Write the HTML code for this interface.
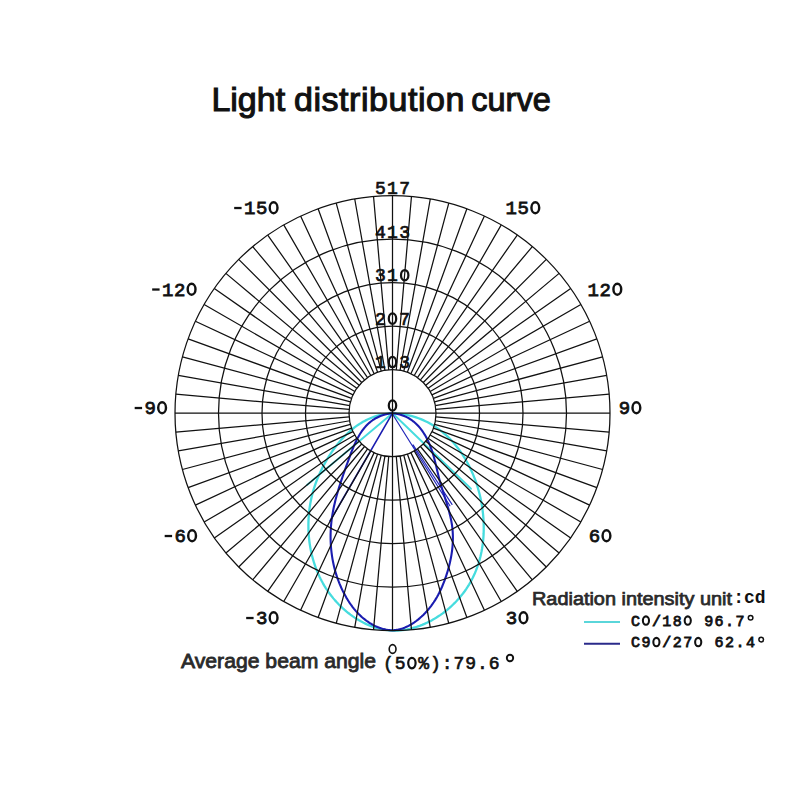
<!DOCTYPE html>
<html><head><meta charset="utf-8"><style>
html,body{margin:0;padding:0;background:#fff;}
svg{display:block;}
</style></head><body>
<svg width="800" height="800" viewBox="0 0 800 800">
<rect width="800" height="800" fill="#fff"/>
<g font-family='"Liberation Sans", sans-serif' font-size="34" fill="#111" stroke="#111" stroke-width="1.1">
<text x="211.4" y="110.5" textLength="73.7" lengthAdjust="spacingAndGlyphs">Light</text>
<text x="294" y="110.5" textLength="170.4" lengthAdjust="spacing">distribution</text>
<text x="471.3" y="110.5" textLength="79.4" lengthAdjust="spacingAndGlyphs">curve</text>
</g>

<g fill="none" stroke-linecap="round" stroke-linejoin="round">
<path d="M392.5 413.2L307 485M392.5 413.2L471 488.75" stroke="#46dcde" stroke-width="1.9"/>
<path d="M392.50 413.19L389.81 413.38L387.16 413.67L384.56 414.06L381.99 414.56L379.47 415.15L376.99 415.85L374.55 416.63L372.16 417.51L369.80 418.47L367.50 419.52L365.23 420.65L363.01 421.85L360.83 423.14L358.70 424.49L356.61 425.92L354.56 427.41L352.56 428.97L350.61 430.59L348.70 432.27L346.83 434.00L345.01 435.79L343.23 437.62L341.50 439.51L339.82 441.43L338.17 443.40L336.57 445.41L335.01 447.46L333.49 449.54L332.01 451.65L330.57 453.80L329.16 455.97L327.80 458.16L326.48 460.38L325.19 462.62L323.94 464.88L322.74 467.16L321.58 469.46L320.46 471.78L319.38 474.12L318.36 476.48L317.37 478.85L316.44 481.24L315.55 483.65L314.72 486.07L313.93 488.50L313.20 490.95L312.52 493.41L311.89 495.89L311.32 498.38L310.79 500.87L310.32 503.38L309.91 505.90L309.54 508.43L309.22 510.96L308.96 513.50L308.75 516.05L308.58 518.61L308.47 521.17L308.41 523.74L308.40 526.31L308.44 528.89L308.53 531.46L308.68 534.03L308.88 536.61L309.12 539.17L309.43 541.74L309.78 544.29L310.19 546.84L310.65 549.39L311.17 551.92L311.74 554.44L312.37 556.95L313.05 559.44L313.78 561.92L314.58 564.38L315.43 566.82L316.33 569.25L317.29 571.65L318.31 574.03L319.39 576.39L320.52 578.72L321.71 581.03L322.96 583.31L324.27 585.56L325.64 587.78L327.06 589.96L328.55 592.12L330.09 594.24L331.69 596.32L333.35 598.37L335.05 600.37L336.81 602.33L338.62 604.24L340.48 606.10L342.38 607.92L344.33 609.68L346.32 611.38L348.35 613.03L350.42 614.62L352.53 616.15L354.67 617.61L356.85 619.01L359.06 620.34L361.30 621.60L363.57 622.78L365.87 623.89L368.19 624.93L370.53 625.88L372.90 626.75L375.29 627.54L377.70 628.24L380.12 628.86L382.56 629.38L385.02 629.81L387.48 630.15L389.95 630.39L392.44 630.53L394.93 630.57L397.42 630.51L399.92 630.35L402.41 630.09L404.91 629.75L407.40 629.31L409.88 628.79L412.35 628.17L414.82 627.48L417.27 626.70L419.70 625.84L422.12 624.90L424.51 623.89L426.89 622.80L429.24 621.64L431.56 620.41L433.86 619.12L436.12 617.76L438.35 616.33L440.55 614.85L442.70 613.31L444.82 611.71L446.90 610.05L448.93 608.34L450.91 606.59L452.85 604.78L454.74 602.93L456.57 601.03L458.35 599.09L460.07 597.12L461.73 595.10L463.33 593.05L464.86 590.97L466.33 588.85L467.74 586.70L469.08 584.53L470.36 582.32L471.58 580.09L472.74 577.83L473.83 575.54L474.87 573.23L475.84 570.89L476.75 568.54L477.61 566.16L478.41 563.76L479.15 561.33L479.83 558.89L480.46 556.44L481.02 553.96L481.54 551.47L482.00 548.97L482.40 546.45L482.75 543.91L483.05 541.37L483.29 538.81L483.48 536.25L483.62 533.67L483.70 531.09L483.74 528.50L483.73 525.91L483.66 523.31L483.55 520.70L483.39 518.10L483.18 515.49L482.92 512.89L482.61 510.28L482.25 507.68L481.84 505.09L481.39 502.50L480.88 499.92L480.33 497.35L479.73 494.79L479.08 492.25L478.39 489.71L477.65 487.20L476.86 484.70L476.02 482.21L475.14 479.75L474.21 477.31L473.24 474.89L472.21 472.50L471.15 470.13L470.03 467.79L468.87 465.48L467.67 463.19L466.41 460.94L465.12 458.72L463.78 456.54L462.39 454.39L460.96 452.28L459.48 450.21L457.96 448.18L456.40 446.19L454.79 444.24L453.13 442.34L451.44 440.48L449.70 438.67L447.91 436.91L446.08 435.20L444.21 433.55L442.30 431.94L440.34 430.39L438.34 428.90L436.30 427.47L434.22 426.09L432.09 424.77L429.92 423.52L427.72 422.33L425.46 421.21L423.17 420.15L420.84 419.16L418.46 418.24L416.04 417.39L413.59 416.61L411.09 415.91L408.55 415.28L405.97 414.73L403.35 414.25L400.70 413.86L398.00 413.55L395.26 413.32L392.48 413.17" stroke="#46dcde" stroke-width="2.3"/>
<path d="M392.5 413.2L330 521" stroke="#1a1cb0" stroke-width="1.6"/>
<path d="M392.1 413.5L449.9 505.8M413.2 445L452 504.4" stroke="#2226b8" stroke-width="1.2"/>
<path d="M392.53 413.19L389.87 413.53L387.34 413.99L384.92 414.56L382.61 415.25L380.41 416.04L378.32 416.94L376.32 417.94L374.42 419.03L372.61 420.22L370.89 421.49L369.25 422.84L367.70 424.28L366.21 425.78L364.81 427.36L363.47 429.01L362.19 430.72L360.97 432.49L359.82 434.31L358.71 436.18L357.65 438.10L356.64 440.06L355.67 442.06L354.73 444.09L353.83 446.16L352.96 448.25L352.11 450.36L351.28 452.49L350.47 454.63L349.67 456.78L348.89 458.94L348.11 461.10L347.33 463.25L346.55 465.41L345.78 467.56L345.01 469.71L344.25 471.86L343.50 474.01L342.76 476.16L342.03 478.30L341.31 480.45L340.60 482.60L339.91 484.75L339.23 486.90L338.56 489.05L337.92 491.20L337.29 493.35L336.69 495.51L336.10 497.67L335.54 499.83L335.00 501.99L334.49 504.16L334.00 506.33L333.54 508.51L333.11 510.69L332.71 512.87L332.34 515.06L332.01 517.26L331.70 519.46L331.43 521.66L331.20 523.88L331.01 526.10L330.85 528.32L330.73 530.55L330.64 532.78L330.59 535.02L330.58 537.26L330.61 539.50L330.68 541.74L330.78 543.98L330.93 546.22L331.11 548.46L331.33 550.69L331.59 552.92L331.89 555.15L332.23 557.37L332.60 559.59L333.02 561.80L333.48 564.00L333.97 566.19L334.51 568.38L335.09 570.56L335.70 572.72L336.36 574.88L337.06 577.02L337.80 579.15L338.58 581.26L339.40 583.36L340.27 585.45L341.17 587.52L342.12 589.57L343.11 591.60L344.14 593.62L345.22 595.61L346.33 597.59L347.50 599.54L348.71 601.47L349.96 603.37L351.27 605.23L352.64 607.07L354.05 608.86L355.53 610.62L357.07 612.33L358.66 614.00L360.32 615.61L362.04 617.18L363.81 618.68L365.64 620.12L367.51 621.48L369.42 622.77L371.37 623.97L373.36 625.09L375.38 626.11L377.42 627.03L379.49 627.85L381.57 628.55L383.67 629.14L385.78 629.60L387.89 629.94L390.00 630.14L392.12 630.20L394.22 630.11L396.32 629.88L398.40 629.52L400.47 629.02L402.53 628.40L404.56 627.65L406.57 626.80L408.56 625.83L410.52 624.76L412.45 623.60L414.35 622.34L416.22 621.00L418.04 619.58L419.83 618.09L421.58 616.53L423.28 614.90L424.93 613.22L426.54 611.49L428.09 609.71L429.58 607.89L431.02 606.04L432.40 604.16L433.72 602.26L434.97 600.34L436.16 598.41L437.29 596.46L438.36 594.50L439.38 592.52L440.35 590.52L441.28 588.51L442.17 586.48L443.01 584.43L443.83 582.36L444.61 580.28L445.37 578.17L446.10 576.05L446.80 573.91L447.47 571.76L448.11 569.59L448.71 567.40L449.28 565.21L449.82 563.00L450.31 560.78L450.77 558.56L451.19 556.33L451.56 554.09L451.89 551.85L452.18 549.60L452.42 547.35L452.61 545.10L452.76 542.86L452.85 540.61L452.89 538.37L452.88 536.13L452.81 533.89L452.69 531.66L452.51 529.44L452.27 527.23L451.98 525.03L451.63 522.84L451.23 520.65L450.78 518.47L450.30 516.30L449.77 514.13L449.22 511.97L448.63 509.81L448.01 507.66L447.38 505.51L446.72 503.36L446.06 501.21L445.38 499.07L444.69 496.92L444.01 494.77L443.32 492.63L442.64 490.48L441.97 488.32L441.31 486.17L440.67 484.01L440.05 481.84L439.46 479.67L438.89 477.49L438.35 475.31L437.82 473.12L437.30 470.94L436.79 468.75L436.27 466.56L435.75 464.37L435.22 462.18L434.67 460.00L434.09 457.82L433.48 455.65L432.84 453.48L432.15 451.33L431.42 449.18L430.63 447.05L429.80 444.94L428.92 442.85L427.98 440.79L426.99 438.77L425.94 436.79L424.83 434.85L423.65 432.97L422.42 431.13L421.12 429.36L419.75 427.65L418.31 426.01L416.80 424.44L415.22 422.96L413.56 421.55L411.83 420.24L410.02 419.02L408.13 417.89L406.16 416.87L404.10 415.96L401.96 415.16L399.73 414.48L397.41 413.92L395.00 413.49L392.49 413.20" stroke="#1a1cb0" stroke-width="2.1"/>
</g>
<g fill="none" stroke="#111" stroke-width="1.25">
<circle cx="392.5" cy="413.2" r="43.5"/>
<circle cx="392.5" cy="413.2" r="87"/>
<circle cx="392.5" cy="413.2" r="130.5"/>
<circle cx="392.5" cy="413.2" r="174"/>
<circle cx="392.5" cy="413.2" r="217.5"/>
<path d="M392.5 413.2L392.5 195.7M396.29 369.87L411.46 196.53M400.05 370.36L430.27 199M403.76 371.18L448.79 203.11M407.38 372.32L466.89 208.82M410.88 373.78L484.42 216.08M414.25 375.53L501.25 224.84M417.45 377.57L517.25 235.03M420.46 379.88L532.31 246.59M423.26 382.44L546.3 259.4M425.82 385.24L559.11 273.39M428.13 388.25L570.67 288.45M430.17 391.45L580.86 304.45M431.92 394.82L589.62 321.28M433.38 398.32L596.88 338.81M434.52 401.94L602.59 356.91M435.34 405.65L606.7 375.43M435.83 409.41L609.17 394.24M392.5 413.2L610 413.2M435.83 416.99L609.17 432.16M435.34 420.75L606.7 450.97M434.52 424.46L602.59 469.49M433.38 428.08L596.88 487.59M431.92 431.58L589.62 505.12M430.17 434.95L580.86 521.95M428.13 438.15L570.67 537.95M425.82 441.16L559.11 553.01M423.26 443.96L546.3 567M420.46 446.52L532.31 579.81M417.45 448.83L517.25 591.37M414.25 450.87L501.25 601.56M410.88 452.62L484.42 610.32M407.38 454.08L466.89 617.58M403.76 455.22L448.79 623.29M400.05 456.04L430.27 627.4M396.29 456.53L411.46 629.87M392.5 413.2L392.5 630.7M388.71 456.53L373.54 629.87M384.95 456.04L354.73 627.4M381.24 455.22L336.21 623.29M377.62 454.08L318.11 617.58M374.12 452.62L300.58 610.32M370.75 450.87L283.75 601.56M367.55 448.83L267.75 591.37M364.54 446.52L252.69 579.81M361.74 443.96L238.7 567M359.18 441.16L225.89 553.01M356.87 438.15L214.33 537.95M354.83 434.95L204.14 521.95M353.08 431.58L195.38 505.12M351.62 428.08L188.12 487.59M350.48 424.46L182.41 469.49M349.66 420.75L178.3 450.97M349.17 416.99L175.83 432.16M392.5 413.2L175 413.2M349.17 409.41L175.83 394.24M349.66 405.65L178.3 375.43M350.48 401.94L182.41 356.91M351.62 398.32L188.12 338.81M353.08 394.82L195.38 321.28M354.83 391.45L204.14 304.45M356.87 388.25L214.33 288.45M359.18 385.24L225.89 273.39M361.74 382.44L238.7 259.4M364.54 379.88L252.69 246.59M367.55 377.57L267.75 235.03M370.75 375.53L283.75 224.84M374.12 373.78L300.58 216.08M377.62 372.32L318.11 208.82M381.24 371.18L336.21 203.11M384.95 370.36L354.73 199M388.71 369.87L373.54 196.53"/>
</g>
<g>
<text x="374.9" y="194.2" font-family='"Liberation Mono", monospace' font-size="18" font-weight="normal" letter-spacing="1.4" fill="#111" stroke="#111" stroke-width="0.7" xml:space="preserve">517</text>
<text x="374.9" y="237.65" font-family='"Liberation Mono", monospace' font-size="18" font-weight="normal" letter-spacing="1.4" fill="#111" stroke="#111" stroke-width="0.7" xml:space="preserve">413</text>
<text x="374.9" y="281.1" font-family='"Liberation Mono", monospace' font-size="18" font-weight="normal" letter-spacing="1.4" fill="#111" stroke="#111" stroke-width="0.7" xml:space="preserve">31 </text><ellipse cx="404.7" cy="275.18" rx="3.69" ry="5.17" fill="none" stroke="#111" stroke-width="2.25"/>
<text x="374.9" y="324.55" font-family='"Liberation Mono", monospace' font-size="18" font-weight="normal" letter-spacing="1.4" fill="#111" stroke="#111" stroke-width="0.7" xml:space="preserve">2 7</text><ellipse cx="392.5" cy="318.63" rx="3.69" ry="5.17" fill="none" stroke="#111" stroke-width="2.25"/>
<text x="374.9" y="368" font-family='"Liberation Mono", monospace' font-size="18" font-weight="normal" letter-spacing="1.4" fill="#111" stroke="#111" stroke-width="0.7" xml:space="preserve">1 3</text><ellipse cx="392.5" cy="362.08" rx="3.69" ry="5.17" fill="none" stroke="#111" stroke-width="2.25"/>
<text x="387.1" y="411.45" font-family='"Liberation Mono", monospace' font-size="18" font-weight="normal" letter-spacing="1.4" fill="#111" stroke="#111" stroke-width="0.7" xml:space="preserve"> </text><ellipse cx="392.5" cy="405.53" rx="3.69" ry="5.17" fill="none" stroke="#111" stroke-width="2.25"/>
<text x="231.9" y="214" font-family='"Liberation Mono", monospace' font-size="19" font-weight="normal" letter-spacing="0.6" fill="#111" stroke="#111" stroke-width="0.8" xml:space="preserve"> 15 </text><ellipse cx="273.6" cy="207.75" rx="3.89" ry="5.43" fill="none" stroke="#111" stroke-width="2.43"/><rect x="234.18" y="206.88" width="7.41" height="2.28" fill="#111"/>
<text x="505.62" y="214" font-family='"Liberation Mono", monospace' font-size="19" font-weight="normal" letter-spacing="0.6" fill="#111" stroke="#111" stroke-width="0.8" xml:space="preserve">15 </text><ellipse cx="535.32" cy="207.75" rx="3.89" ry="5.43" fill="none" stroke="#111" stroke-width="2.43"/>
<text x="149.9" y="295.5" font-family='"Liberation Mono", monospace' font-size="19" font-weight="normal" letter-spacing="0.6" fill="#111" stroke="#111" stroke-width="0.8" xml:space="preserve"> 12 </text><ellipse cx="191.6" cy="289.25" rx="3.89" ry="5.43" fill="none" stroke="#111" stroke-width="2.43"/><rect x="152.18" y="288.38" width="7.41" height="2.28" fill="#111"/>
<text x="587.62" y="295.5" font-family='"Liberation Mono", monospace' font-size="19" font-weight="normal" letter-spacing="0.6" fill="#111" stroke="#111" stroke-width="0.8" xml:space="preserve">12 </text><ellipse cx="617.32" cy="289.25" rx="3.89" ry="5.43" fill="none" stroke="#111" stroke-width="2.43"/>
<text x="132.4" y="414" font-family='"Liberation Mono", monospace' font-size="19" font-weight="normal" letter-spacing="0.6" fill="#111" stroke="#111" stroke-width="0.8" xml:space="preserve"> 9 </text><ellipse cx="162.1" cy="407.75" rx="3.89" ry="5.43" fill="none" stroke="#111" stroke-width="2.43"/><rect x="134.68" y="406.88" width="7.41" height="2.28" fill="#111"/>
<text x="618.69" y="414" font-family='"Liberation Mono", monospace' font-size="19" font-weight="normal" letter-spacing="0.6" fill="#111" stroke="#111" stroke-width="0.8" xml:space="preserve">9 </text><ellipse cx="636.39" cy="407.75" rx="3.89" ry="5.43" fill="none" stroke="#111" stroke-width="2.43"/>
<text x="162.4" y="542" font-family='"Liberation Mono", monospace' font-size="19" font-weight="normal" letter-spacing="0.6" fill="#111" stroke="#111" stroke-width="0.8" xml:space="preserve"> 6 </text><ellipse cx="192.1" cy="535.75" rx="3.89" ry="5.43" fill="none" stroke="#111" stroke-width="2.43"/><rect x="164.68" y="534.88" width="7.41" height="2.28" fill="#111"/>
<text x="588.76" y="542" font-family='"Liberation Mono", monospace' font-size="19" font-weight="normal" letter-spacing="0.6" fill="#111" stroke="#111" stroke-width="0.8" xml:space="preserve">6 </text><ellipse cx="606.47" cy="535.75" rx="3.89" ry="5.43" fill="none" stroke="#111" stroke-width="2.43"/>
<text x="243.9" y="624" font-family='"Liberation Mono", monospace' font-size="19" font-weight="normal" letter-spacing="0.6" fill="#111" stroke="#111" stroke-width="0.8" xml:space="preserve"> 3 </text><ellipse cx="273.6" cy="617.75" rx="3.89" ry="5.43" fill="none" stroke="#111" stroke-width="2.43"/><rect x="246.18" y="616.88" width="7.41" height="2.28" fill="#111"/>
<text x="505.76" y="624" font-family='"Liberation Mono", monospace' font-size="19" font-weight="normal" letter-spacing="0.6" fill="#111" stroke="#111" stroke-width="0.8" xml:space="preserve">3 </text><ellipse cx="523.47" cy="617.75" rx="3.89" ry="5.43" fill="none" stroke="#111" stroke-width="2.43"/>
<ellipse cx="392.6" cy="649" rx="3.4" ry="4.4" fill="none" stroke="#111" stroke-width="1.6"/>
</g>
<text x="532" y="605" font-family='"Liberation Sans", sans-serif' font-size="18.5" fill="#2a2a2a" stroke="#2a2a2a" stroke-width="0.75" textLength="200" lengthAdjust="spacingAndGlyphs">Radiation intensity unit</text>
<text x="733.2" y="603" font-family='"Liberation Mono", monospace' font-size="18" font-weight="bold" letter-spacing="0" fill="#111" xml:space="preserve">:cd</text>
<line x1="584" y1="622" x2="620" y2="622" stroke="#5ad6da" stroke-width="2"/>
<line x1="584" y1="643.75" x2="620" y2="643.75" stroke="#2a2a8a" stroke-width="2"/>
<text x="631" y="625.5" font-family='"Liberation Mono", monospace' font-size="15" font-weight="normal" letter-spacing="1.45" fill="#111" stroke="#111" stroke-width="0.8" xml:space="preserve">C /18  96.7</text><ellipse cx="645.95" cy="620.57" rx="3.07" ry="4.21" fill="none" stroke="#111" stroke-width="2.07"/><ellipse cx="687.75" cy="620.57" rx="3.07" ry="4.21" fill="none" stroke="#111" stroke-width="2.07"/>
<circle cx="750.6" cy="617.8" r="2.3" fill="none" stroke="#111" stroke-width="1.5"/>
<text x="631" y="647" font-family='"Liberation Mono", monospace' font-size="15" font-weight="normal" letter-spacing="1.45" fill="#111" stroke="#111" stroke-width="0.8" xml:space="preserve">C9 /27  62.4</text><ellipse cx="656.4" cy="642.07" rx="3.07" ry="4.21" fill="none" stroke="#111" stroke-width="2.07"/><ellipse cx="698.2" cy="642.07" rx="3.07" ry="4.21" fill="none" stroke="#111" stroke-width="2.07"/>
<circle cx="761.2" cy="639.6" r="2.3" fill="none" stroke="#111" stroke-width="1.5"/>
<text x="181" y="668" font-family='"Liberation Sans", sans-serif' font-size="20" fill="#2a2a2a" stroke="#2a2a2a" stroke-width="0.8" textLength="195" lengthAdjust="spacingAndGlyphs">Average beam angle</text>
<text x="383" y="669" font-family='"Liberation Mono", monospace' font-size="18" font-weight="normal" letter-spacing="0.95" fill="#111" stroke="#111" stroke-width="0.65" xml:space="preserve">(5 %):79.6</text><ellipse cx="411.9" cy="663.08" rx="3.69" ry="5.2" fill="none" stroke="#111" stroke-width="2.21"/>
<circle cx="510" cy="658" r="3.2" fill="none" stroke="#111" stroke-width="1.9"/>
</svg>
</body></html>
